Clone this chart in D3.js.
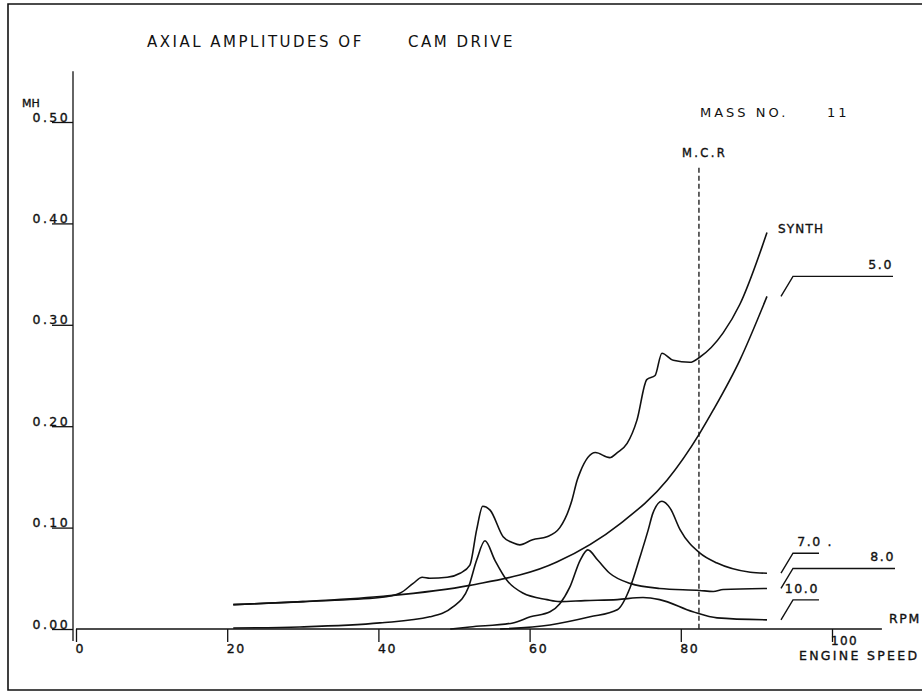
<!DOCTYPE html>
<html>
<head>
<meta charset="utf-8">
<script src="https://cdn.jsdelivr.net/npm/d3@7"></script>
<style>
  html, body { margin: 0; padding: 0; background: #fff; }
  svg { display: block; }
  text { font-family: "DejaVu Sans", sans-serif; fill: #111; }
  text.lbl { stroke: #111; stroke-width: 0.35; }
</style>
</head>
<body>
<svg id="chart" width="922" height="695"></svg>
<script>
// axis ticks
const xTicks = [0, 20, 40, 60, 80];
const yTicks = [0, 0.1, 0.2, 0.3, 0.4, 0.5];

// order 5.0
const rpm5 = [20.8, 30, 40.2, 52.1, 63.6, 72.0, 78.2, 82.5, 84.3, 87.8, 91.4];
const mm5 = [0.024, 0.027, 0.032, 0.043, 0.066, 0.104, 0.147, 0.193, 0.216, 0.265, 0.328];

// synthesis
const rpmSynth = [20.8, 30, 40.2, 42.9, 44.6, 45.8, 46.8, 49.1, 50.8, 52.1, 53.0, 53.8, 54.8, 56.5, 57.8, 58.7,
  60.4, 62.3, 64.0, 65.3, 65.6, 66.3, 66.7, 68.7, 70.6, 71.6, 72.9, 74.2, 75.5, 76.6, 77.5, 79.0, 81.2, 82.5,
  85.6, 87.8, 91.4];
const mmSynth = [0.024, 0.027, 0.031, 0.0355, 0.045, 0.051, 0.050, 0.051, 0.055, 0.063, 0.098, 0.121, 0.117, 0.091,
  0.085, 0.083, 0.088, 0.091, 0.100, 0.120, 0.127, 0.147, 0.155, 0.174, 0.169, 0.174, 0.183, 0.206, 0.246, 0.250,
  0.272, 0.265, 0.263, 0.268, 0.292, 0.320, 0.391];

// order 7.0
const rpm7 = [56.1, 62.7, 68.0, 71.6, 73.3, 74.6, 75.7, 76.3, 77.5, 78.6, 79.9, 82.5, 84.8, 89.2, 91.4];
const mm7 = [0.000, 0.004, 0.012, 0.019, 0.041, 0.071, 0.098, 0.114, 0.126, 0.119, 0.098, 0.075, 0.065, 0.056, 0.055];

// order 8.0
const rpm8 = [49.5, 52.1, 57.8, 60.1, 62.7, 64.0, 65.3, 66.7, 67.7, 69.0, 70.6, 73.3, 77.2, 82.5, 84.3, 85.6, 91.4];
const mm8 = [0.000, 0.002, 0.006, 0.012, 0.017, 0.025, 0.041, 0.068, 0.078, 0.068, 0.055, 0.045, 0.040, 0.038,
  0.037, 0.039, 0.040];

// order 10.0
const rpm10 = [20.8, 29.6, 40.2, 46.8, 49.9, 51.9, 53.0, 54.1, 55.4, 57.0, 59.1, 62.3, 64.0, 67.3, 71.6, 75.0,
  77.2, 81.6, 84.8, 91.4];
const mm10 = [0.001, 0.002, 0.006, 0.012, 0.022, 0.041, 0.068, 0.087, 0.068, 0.048, 0.0355, 0.029, 0.027, 0.028,
  0.029, 0.031, 0.029, 0.017, 0.011, 0.009];

const mcrRpm = 82.4;
const mcrTop = 0.455;

const svg = d3.select('#chart');
const x = d3.scaleLinear().domain([0, 100]).range([76, 832]);
const y = d3.scaleLinear().domain([0, 0.5]).range([629, 122]);

// frame
svg.append('path')
  .attr('d', 'M924,4 H8 V690 H924')
  .attr('fill', 'none')
  .attr('stroke', '#111')
  .attr('stroke-width', 1.6);

// title and notes
svg.append('text').attr('x', 147).attr('y', 47).attr('font-size', 15).attr('letter-spacing', 2.5)
  .text('AXIAL AMPLITUDES OF');
svg.append('text').attr('x', 408).attr('y', 47).attr('font-size', 15).attr('letter-spacing', 2.5)
  .text('CAM DRIVE');
svg.append('text').attr('x', 700).attr('y', 117).attr('font-size', 13).attr('letter-spacing', 3)
  .text('MASS NO.');
svg.append('text').attr('x', 827).attr('y', 117).attr('font-size', 13).attr('letter-spacing', 3)
  .text('11');

// axes
const xAxis = svg.append('g')
  .attr('transform', `translate(0,${y(0)})`)
  .call(d3.axisBottom(x).tickValues(xTicks.concat([100])).tickSize(13).tickSizeOuter(0)
    .tickFormat(d => xTicks.includes(d) ? d3.format('d')(d) : ''));
xAxis.select('.domain').remove();
xAxis.selectAll('line').attr('stroke', '#111').attr('stroke-width', 1.3);
xAxis.selectAll('text')
  .attr('class', 'lbl')
  .attr('text-anchor', 'start')
  .attr('x', -1)
  .attr('y', 24)
  .attr('dy', 0)
  .attr('font-size', 12.5)
  .attr('letter-spacing', 1.6)
  .attr('font-family', '"DejaVu Sans", sans-serif')
  .attr('fill', '#111');

svg.append('line')
  .attr('x1', x(0)).attr('x2', x(106.6))
  .attr('y1', y(0)).attr('y2', y(0))
  .attr('stroke', '#111').attr('stroke-width', 1.3);

const yAxis = svg.append('g')
  .attr('transform', `translate(${x(0) - 3},0)`)
  .call(d3.axisLeft(y).tickValues(yTicks).tickSize(21).tickSizeOuter(0).tickFormat(d3.format('.2f')));
yAxis.select('.domain').remove();
yAxis.selectAll('line').attr('stroke', '#111').attr('stroke-width', 1.3);
yAxis.selectAll('text')
  .attr('class', 'lbl')
  .attr('x', -3)
  .attr('dy', -1)
  .attr('font-size', 12.5)
  .attr('letter-spacing', 2.4)
  .attr('font-family', '"DejaVu Sans", sans-serif')
  .attr('fill', '#111');

svg.append('line')
  .attr('x1', x(0) - 3).attr('x2', x(0) - 3)
  .attr('y1', y(0.55)).attr('y2', y(0) + 12)
  .attr('stroke', '#111').attr('stroke-width', 1.3);

svg.append('text').attr('class', 'lbl').attr('x', 22).attr('y', 107).attr('font-size', 11).text('MH');
svg.append('text').attr('class', 'lbl').attr('x', 889).attr('y', 623).attr('font-size', 12.5)
  .attr('letter-spacing', 1.6).text('RPM');
svg.append('text').attr('class', 'lbl').attr('x', 831).attr('y', 645).attr('font-size', 12)
  .attr('letter-spacing', 1.4).text('100');
svg.append('text').attr('class', 'lbl').attr('x', 799).attr('y', 660).attr('font-size', 12.5)
  .attr('letter-spacing', 2.3).text('ENGINE SPEED');

// M.C.R line
svg.append('line')
  .attr('x1', x(mcrRpm)).attr('x2', x(mcrRpm))
  .attr('y1', y(mcrTop)).attr('y2', y(0))
  .attr('stroke', '#111').attr('stroke-width', 1.3)
  .attr('stroke-dasharray', '5 3');
svg.append('text').attr('class', 'lbl').attr('x', x(mcrRpm) - 17).attr('y', 157).attr('font-size', 11.5)
  .attr('letter-spacing', 2.4).text('M.C.R');

// curves
const line = d3.line()
  .x(d => x(d[0]))
  .y(d => y(d[1]))
  .curve(d3.curveMonotoneX);

const series = [
  { key: 'synth', label: 'SYNTH', rpm: rpmSynth, mm: mmSynth },
  { key: 'o5', label: '5.0', rpm: rpm5, mm: mm5, reach: 100 },
  { key: 'o7', label: '7.0 .', rpm: rpm7, mm: mm7, reach: 26 },
  { key: 'o8', label: '8.0', rpm: rpm8, mm: mm8, reach: 102 },
  { key: 'o10', label: '10.0', rpm: rpm10, mm: mm10, reach: 26 },
];

const curvesG = svg.append('g');
series.forEach(s => {
  const pts = s.rpm.map((r, i) => [r, s.mm[i]]);
  curvesG.append('path')
    .attr('d', line(pts))
    .attr('fill', 'none')
    .attr('stroke', '#111')
    .attr('stroke-width', 1.6)
    .attr('stroke-linejoin', 'round');

  const ex = x(s.rpm[s.rpm.length - 1]);
  const ey = y(s.mm[s.mm.length - 1]);
  if (s.key === 'synth') {
    svg.append('text').attr('class', 'lbl').attr('x', ex + 11).attr('y', ey).attr('font-size', 12)
      .attr('letter-spacing', 1.2).text(s.label);
    return;
  }
  const bx = ex + 26;
  const by = ey - 20;
  svg.append('path')
    .attr('d', `M${ex + 14},${ey} L${bx},${by} H${bx + s.reach}`)
    .attr('fill', 'none')
    .attr('stroke', '#111')
    .attr('stroke-width', 1.4);
  svg.append('text')
    .attr('class', 'lbl')
    .attr('x', bx + s.reach + (s.key === 'o7' ? 14 : 0))
    .attr('y', by - 7)
    .attr('text-anchor', 'end')
    .attr('font-size', 12.5)
    .attr('letter-spacing', 1.6)
    .text(s.label);
});
</script>
</body>
</html>
